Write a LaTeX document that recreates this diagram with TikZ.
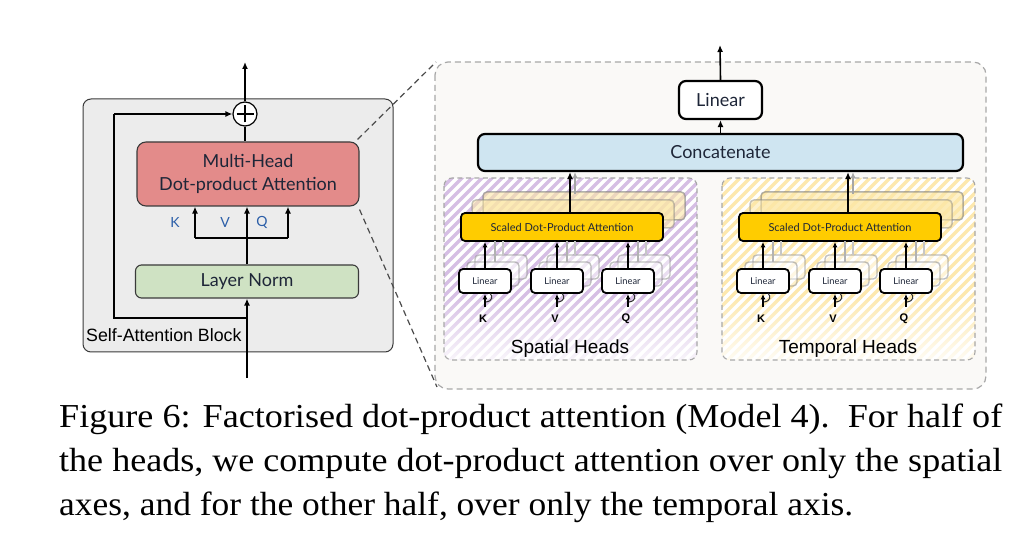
\documentclass[tikz,border=0pt]{standalone}
\usepackage{fontspec}
\usepackage{graphicx}
\setmainfont{Liberation Serif}
\newfontfamily\boxf{Lato}
\newfontfamily\arf{Liberation Sans}
\usetikzlibrary{arrows.meta,fadings}
\definecolor{blockbg}{HTML}{ECECEC}
\definecolor{blockbd}{HTML}{3A3A3A}
\definecolor{mhfill}{HTML}{E38B8A}
\definecolor{lnfill}{HTML}{CFE2C3}
\definecolor{catfill}{HTML}{CFE5F1}
\definecolor{sdpafill}{HTML}{FFCC00}
\definecolor{sdpashadow}{HTML}{FCE7A6}
\definecolor{panelbg}{HTML}{FAF9F7}
\definecolor{txt}{HTML}{1E2638}
\definecolor{kvqblue}{HTML}{2B5EA8}
\definecolor{hatchP}{HTML}{D6BEE4}
\definecolor{hatchY}{HTML}{FDE8AE}
\definecolor{dashgray}{HTML}{A8A8A8}
\tikzset{
  arr/.style={line width=1.6pt,-{Latex[length=7pt,width=6pt]}},
  sarr/.style={line width=1.5pt,-{Latex[length=5.5pt,width=5pt]}},
  gbox/.style={draw=blockbd,line width=1.1pt,rounded corners=9pt,text=txt,font=\boxf\fontsize{18}{23}\selectfont,align=center,inner sep=0pt},
  bbox/.style={draw=black,line width=2.2pt,rounded corners=7pt,text=txt,font=\boxf\fontsize{18}{23}\selectfont,inner sep=0pt},
  sdpabox/.style={draw=black,line width=1.8pt,fill=sdpafill,rounded corners=4pt,minimum width=202pt,minimum height=28pt,inner sep=0pt,text=txt,font=\boxf\fontsize{11}{13}\selectfont},
  sdpash/.style={draw=gray,draw opacity=0.45,line width=1.5pt,fill=sdpashadow,fill opacity=0.55,rounded corners=4pt,minimum width=202pt,minimum height=28pt,inner sep=0pt},
  linbox/.style={draw=black,line width=1.8pt,fill=white,rounded corners=4pt,minimum width=52pt,minimum height=24pt,inner sep=0pt,text=txt,font=\boxf\fontsize{9.3}{11}\selectfont},
  linsh/.style={draw=gray,draw opacity=0.5,line width=1.4pt,fill=white,fill opacity=0.35,rounded corners=4pt,minimum width=52pt,minimum height=24pt,inner sep=0pt},
  kvqlab/.style={font=\arf\bfseries\fontsize{11}{12}\selectfont,inner sep=0pt},
  lkvq/.style={text=kvqblue,font=\boxf\fontsize{14}{16}\selectfont,inner sep=0pt},
  conn/.style={draw=black!70,line width=1.2pt,dash pattern=on 6pt off 4pt},
  capl/.style={anchor=base west,inner sep=0pt,font=\fontsize{33.5}{40}\selectfont}
}
\newcommand\headgroup[4]{%
\begin{scope}[xshift=#4]
  \fill[white,rounded corners=8pt] (444,178) rectangle (697,360);
  \begin{scope}
    \clip[rounded corners=8pt] (444,178) rectangle (697,360);
    \foreach \a in {240,250,...,700} \draw[#2,line width=3.4pt] (\a,370) -- ++(200,-200);
    \fill[white,opacity=0.88,path fading=north] (440,295) rectangle (700,362);
  \end{scope}
  \draw[dashgray,line width=1.1pt,dash pattern=on 5pt off 3.5pt,rounded corners=8pt] (444,178) rectangle (697,360);
  \node[font=\arf\fontsize{19}{21}\selectfont] (#1lab) at (570,349) {#3};
  % shadows of SDPA
  \node[sdpash,opacity=0.6] (#1sh2) at (584,206) {};
  \node[sdpash] (#1sh1) at (573,214) {};
  \draw[gray!70,line width=1.4pt,-{Latex[length=6pt,width=5pt]}] (575,194) -- (575,172);
  \coordinate (#1ax) at (570,200);
  \node[sdpabox] (#1sdpa) at (562,227) {Scaled Dot-Product Attention};
  \draw[arr] (#1ax |- #1sdpa.north) -- (#1ax |- cat.south);
  % linear groups
  \foreach \n/\x/\l in {1/485/K,2/557/V,3/628/Q}{
    \node[linsh,opacity=0.5] (#1s2\n) at (\x+16,267) {};
    \node[linsh] (#1s1\n) at (\x+8,274) {};
    \draw[gray!60,line width=1.3pt] (\x+10,262) -- (\x+10,241);
    \draw[gray!45,line width=1.3pt] (\x+18,255) -- (\x+18,241);
    \node[linbox] (#1l\n) at (\x,281) {Linear};
    \draw[sarr] (#1l\n.north) -- (#1l\n.north |- #1sdpa.south);
    \node[kvqlab] (#1k\n) at (\x-2,319) {\l};
    \coordinate (#1a\n) at (\x,307);
    \draw[sarr] (#1a\n) -- (#1l\n.south);
    \draw[black!80,line width=1pt] (\x+1,302) .. controls (\x+8,301) and (\x+8,296) .. (\x+5,293.5);
  }
\end{scope}}
\begin{document}
\begin{tikzpicture}[x=1pt,y=-1pt]
\useasboundingbox (0,0) rectangle (1025,534);
\fill[white] (0,0) rectangle (1025,534);
% ---------- left block ----------
\draw[blockbd,fill=blockbg,line width=1pt,rounded corners=8pt] (83,99) rectangle (393,352);
\node[anchor=base west,font=\arf\fontsize{17.8}{19}\selectfont,inner sep=0pt] (salab) at (86,342) {Self-Attention Block};
\node[gbox,fill=mhfill,minimum width=222pt,minimum height=64pt] (mh) at (248,174) {Multi-Head\\Dot-product Attention};
\node[gbox,fill=lnfill,minimum width=223pt,minimum height=33pt,rounded corners=6pt] (ln) at (247,281.5) {Layer Norm};
\node[circle,draw=black,line width=1.2pt,fill=white,minimum size=24pt,inner sep=0pt] (plus) at (245,114) {};
\draw[line width=1.2pt] ([yshift=-8.5pt]plus.center) -- ([yshift=8.5pt]plus.center) ([xshift=-8.5pt]plus.center) -- ([xshift=8.5pt]plus.center);
\coordinate (inp) at (247,378);
\coordinate (outp) at (245,62);
\coordinate (rs) at (247,318);
\coordinate (rtop) at (114,114);
\coordinate (kb) at (195,238);
\coordinate (qb) at (288,238);
\draw[arr] (inp) -- (ln.south);
\draw[arr] (ln.north) -- (ln.north |- mh.south);
\draw[line width=1.6pt] (kb) -- (qb);
\draw[arr] (kb) -- (kb |- mh.south);
\draw[arr] (qb) -- (qb |- mh.south);
\draw[line width=1.6pt] (plus.south) -- (plus.south |- mh.north);
\draw[arr] (plus.north) -- (outp);
\draw[line width=1.6pt] (rs) -| (rtop);
\draw[arr] (rtop) -- (plus.west);
\node[lkvq] (klab) at (175,222) {K};
\node[lkvq] (vlab) at (225,222) {V};
\node[lkvq] (qlab) at (262,222) {Q};
% ---------- right panel ----------
\draw[dashgray,line width=1.2pt,dash pattern=on 6pt off 4pt,fill=panelbg,rounded corners=13pt] (435,62) rectangle (986,389);
\coordinate (ptl) at (436,62);
\coordinate (pbl) at (437,387);
\draw[conn] ([shift={(-2,-2)}]mh.north east) -- (ptl);
\draw[conn] ([shift={(0,3)}]mh.south east) -- (pbl);
\node[bbox,fill=catfill,minimum width=485pt,minimum height=37pt] (cat) at (720.5,152.5) {Concatenate};
\node[bbox,fill=white,minimum width=83pt,minimum height=38pt] (lin) at (720.5,100) {Linear};
\coordinate (rout) at (720,45);
\draw[arr] (cat.north) -- (lin.south);
\draw[arr] (lin.north) -- (rout);
\headgroup{sp}{hatchP}{Spatial Heads}{0pt}
\headgroup{tp}{hatchY}{Temporal Heads}{278pt}
% ---------- caption ----------
\node[capl] (cap1) at (59,427) {\resizebox{943pt}{\height}{Figure 6: Factorised dot-product attention (Model 4).\ \ For half of}};
\node[capl] (cap2) at (59,471) {\resizebox{943pt}{\height}{the heads, we compute dot-product attention over only the spatial}};
\node[capl] (cap3) at (59,515) {\resizebox{794pt}{\height}{axes, and for the other half, over only the temporal axis.}};
\end{tikzpicture}
\end{document}
